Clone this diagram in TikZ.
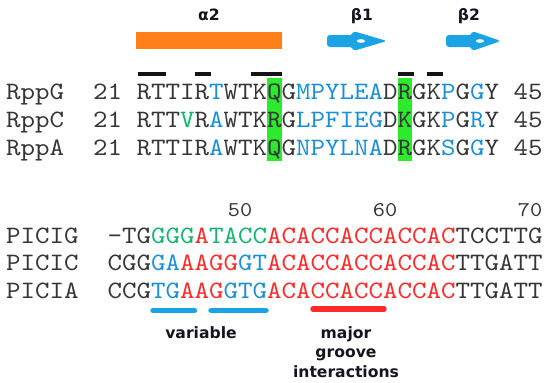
\documentclass[tikz,border=0pt]{standalone}
\usepackage{fontspec}
\usepackage{tikz}
\usetikzlibrary{positioning}
\newfontfamily\seqfont{lmmono10-regular.otf}[FakeStretch=1.1048]
\newfontfamily\labelfont{DejaVu Sans}
\definecolor{inkgrey}{HTML}{363636}
\definecolor{labelink}{HTML}{15151F}
\definecolor{resblue}{HTML}{1B8FD6}
\definecolor{resgreen}{HTML}{14B46E}
\definecolor{resred}{HTML}{FF2A2A}
\definecolor{strandblue}{HTML}{1CA3E3}
\definecolor{helixorange}{HTML}{FF8019}
\definecolor{hlgreen}{HTML}{2EEA2E}
\newcommand{\resB}[1]{\textcolor{resblue}{#1}}
\newcommand{\resG}[1]{\textcolor{resgreen}{#1}}
\newcommand{\resR}[1]{\textcolor{resred}{#1}}
\def\cw{14.5}
\tikzset{
  seqtext/.style={font=\seqfont\fontsize{25}{28}\selectfont,text=inkgrey,
    inner sep=0pt,anchor=base west},
  rulernum/.style={font=\seqfont\fontsize{21}{24}\selectfont,text=inkgrey,
    inner sep=0pt,anchor=base east},
  sslabel/.style={font=\labelfont\bfseries\fontsize{15.6}{19.5}\selectfont,
    text=labelink,inner sep=0pt,align=center},
  contactdash/.style={line width=4.5pt,black!92},
  regionbar/.style={line width=5.5pt,line cap=round}
}
% one protein row: name, first residue number, aligned residues, last number
\newcommand{\protrow}[3]{%
  \node[seqtext] (#1) at (6,#2) {#1};
  \node[seqtext] (#1-from) at ({6+6*\cw},#2) {21};
  \node[seqtext] (#1-seq) at ({6+9*\cw},#2) {#3};
  \node[seqtext] (#1-to) at ({6+35*\cw},#2) {45};}
% one DNA row, residues start in column 7
\newcommand{\dnarow}[3]{%
  \node[seqtext] (#1) at (6,#2) {#1};
  \node[seqtext] (#1-seq) at ({6+7*\cw},#2) {#3};}
% beta strand arrow: left end, start of head, tip
\newcommand{\strandarrow}[3]{%
  \fill[strandblue,rounded corners=3pt] (#1,35) -- (#2,35) -- (#2,31)
    -- (#3,41) -- (#2,51) -- (#2,47) -- (#1,47) -- cycle;
  \fill[white] ({#2+8},41) ellipse (4 and 1.8);}

\begin{document}
\begin{tikzpicture}[x=1pt,y=-1pt]
  \useasboundingbox (0,0) rectangle (550,383);

  % conserved columns behind the protein rows
  \fill[hlgreen] ({6+18*\cw},78) rectangle ({6+19*\cw},161);
  \fill[hlgreen] ({6+27*\cw},78) rectangle ({6+28*\cw},161);

  % secondary structure
  \node[fill=helixorange,minimum width=146pt,minimum height=17pt,inner sep=0pt]
    (helix) at (209,40.5) {};
  \node[sslabel,above=11pt of helix] (alpha2) {α2};
  \strandarrow{327}{353}{387}
  \strandarrow{446}{472}{501}
  \node[sslabel,anchor=base] (beta1) at (362,20) {β1};
  \node[sslabel,anchor=base] (beta2) at (469,20) {β2};

  \foreach \a/\b in {138/166,195/211,251/282,398/414,427/443}
    \draw[contactdash] (\a,74) -- (\b,74);

  \protrow{RppG}{99}{RTTIR\resB{T}WTKQG\resB{MPYLEA}DRGK\resB{P}G\resB{G}Y}
  \protrow{RppC}{127}{RTT\resG{V}R\resB{A}WTKRG\resB{LPFIEG}DKGK\resB{P}G\resB{R}Y}
  \protrow{RppA}{155}{RTTIR\resB{A}WTKQG\resB{NPYLNA}DRGK\resB{S}G\resB{G}Y}

  % DNA positions
  \node[rulernum] (pos50) at ({6+17*\cw},216) {50};
  \node[rulernum] (pos60) at ({6+27*\cw},216) {60};
  \node[rulernum] (pos70) at ({6+37*\cw},216) {70};

  \dnarow{PICIG}{243}{-TG\resG{GGG}\resR{A}\resG{TACC}\resR{ACACCACCACCAC}TCCTTG}
  \dnarow{PICIC}{270.5}{CGG\resB{GA}\resR{AAGG}\resB{GT}\resR{ACACCACCACCAC}TTGATT}
  \dnarow{PICIA}{298}{CCG\resB{TG}\resR{AAG}\resB{GTG}\resR{ACACCACCACCAC}TTGATT}

  \draw[regionbar,strandblue] (153,310.5) -- (194.5,310.5);
  \draw[regionbar,strandblue] (211,310.5) -- (266,310.5);
  \draw[regionbar,resred] (313,309) -- (384,309);
  \node[sslabel,anchor=base] (variable) at (201,338) {variable};
  % base of a wrapped node sits on its last line
  \node[sslabel,anchor=base] (groove) at (346,377) {major\\groove\\interactions};
\end{tikzpicture}
\end{document}
